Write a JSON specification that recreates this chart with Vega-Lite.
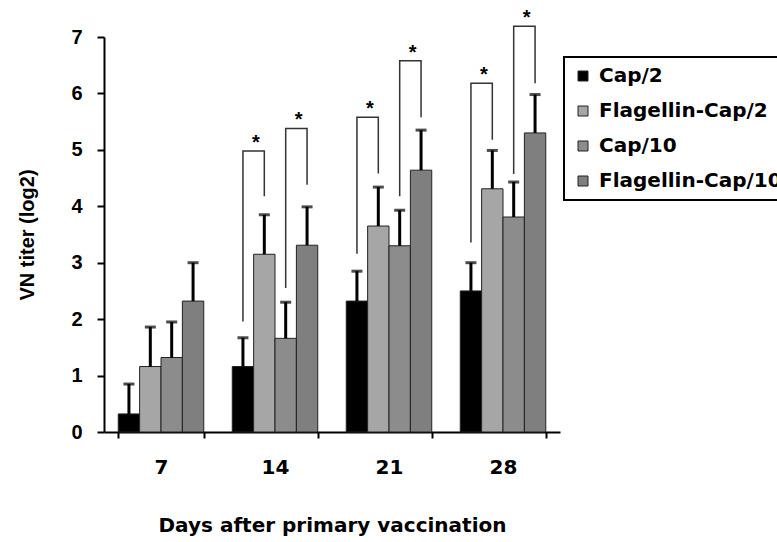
{
  "$schema": "https://vega.github.io/schema/vega-lite/v6.json",
  "autosize": "none",
  "padding": {"left": 104, "top": 37, "right": 217, "bottom": 110},
  "width": 456,
  "height": 395,
  "config": {
    "view": {"stroke": null},
    "font": "Liberation Sans"
  },
  "datasets": {
    "bars": [
      {"day": 7, "group": "Cap/2", "titer": 0.32, "upper": 0.85},
      {"day": 7, "group": "Flagellin-Cap/2", "titer": 1.16, "upper": 1.86},
      {"day": 7, "group": "Cap/10", "titer": 1.32, "upper": 1.95},
      {"day": 7, "group": "Flagellin-Cap/10", "titer": 2.32, "upper": 3.0},
      {"day": 14, "group": "Cap/2", "titer": 1.16, "upper": 1.67},
      {"day": 14, "group": "Flagellin-Cap/2", "titer": 3.15, "upper": 3.85},
      {"day": 14, "group": "Cap/10", "titer": 1.66, "upper": 2.3},
      {"day": 14, "group": "Flagellin-Cap/10", "titer": 3.31, "upper": 3.99},
      {"day": 21, "group": "Cap/2", "titer": 2.32, "upper": 2.85},
      {"day": 21, "group": "Flagellin-Cap/2", "titer": 3.65, "upper": 4.34},
      {"day": 21, "group": "Cap/10", "titer": 3.3, "upper": 3.93},
      {"day": 21, "group": "Flagellin-Cap/10", "titer": 4.64, "upper": 5.35},
      {"day": 28, "group": "Cap/2", "titer": 2.5, "upper": 3.0},
      {"day": 28, "group": "Flagellin-Cap/2", "titer": 4.31, "upper": 4.99},
      {"day": 28, "group": "Cap/10", "titer": 3.81, "upper": 4.43},
      {"day": 28, "group": "Flagellin-Cap/10", "titer": 5.3, "upper": 5.98}
    ],
    "brackets": [
      {"id": "14a", "day": 14, "group": "Cap/2", "seq": 1, "y": 1.96},
      {"id": "14a", "day": 14, "group": "Cap/2", "seq": 2, "y": 4.98},
      {"id": "14a", "day": 14, "group": "Flagellin-Cap/2", "seq": 3, "y": 4.98},
      {"id": "14a", "day": 14, "group": "Flagellin-Cap/2", "seq": 4, "y": 4.18},
      {"id": "14b", "day": 14, "group": "Cap/10", "seq": 1, "y": 2.55},
      {"id": "14b", "day": 14, "group": "Cap/10", "seq": 2, "y": 5.38},
      {"id": "14b", "day": 14, "group": "Flagellin-Cap/10", "seq": 3, "y": 5.38},
      {"id": "14b", "day": 14, "group": "Flagellin-Cap/10", "seq": 4, "y": 4.38},
      {"id": "21a", "day": 21, "group": "Cap/2", "seq": 1, "y": 3.16},
      {"id": "21a", "day": 21, "group": "Cap/2", "seq": 2, "y": 5.58},
      {"id": "21a", "day": 21, "group": "Flagellin-Cap/2", "seq": 3, "y": 5.58},
      {"id": "21a", "day": 21, "group": "Flagellin-Cap/2", "seq": 4, "y": 4.58},
      {"id": "21b", "day": 21, "group": "Cap/10", "seq": 1, "y": 4.18},
      {"id": "21b", "day": 21, "group": "Cap/10", "seq": 2, "y": 6.58},
      {"id": "21b", "day": 21, "group": "Flagellin-Cap/10", "seq": 3, "y": 6.58},
      {"id": "21b", "day": 21, "group": "Flagellin-Cap/10", "seq": 4, "y": 5.58},
      {"id": "28a", "day": 28, "group": "Cap/2", "seq": 1, "y": 3.36},
      {"id": "28a", "day": 28, "group": "Cap/2", "seq": 2, "y": 6.18},
      {"id": "28a", "day": 28, "group": "Flagellin-Cap/2", "seq": 3, "y": 6.18},
      {"id": "28a", "day": 28, "group": "Flagellin-Cap/2", "seq": 4, "y": 5.18},
      {"id": "28b", "day": 28, "group": "Cap/10", "seq": 1, "y": 4.57},
      {"id": "28b", "day": 28, "group": "Cap/10", "seq": 2, "y": 7.19},
      {"id": "28b", "day": 28, "group": "Flagellin-Cap/10", "seq": 3, "y": 7.19},
      {"id": "28b", "day": 28, "group": "Flagellin-Cap/10", "seq": 4, "y": 6.18}
    ],
    "stars": [
      {"day": 14, "group": "Cap/2", "y": 4.98, "label": "*"},
      {"day": 14, "group": "Cap/10", "y": 5.38, "label": "*"},
      {"day": 21, "group": "Cap/2", "y": 5.58, "label": "*"},
      {"day": 21, "group": "Cap/10", "y": 6.58, "label": "*"},
      {"day": 28, "group": "Cap/2", "y": 6.18, "label": "*"},
      {"day": 28, "group": "Cap/10", "y": 7.19, "label": "*"}
    ]
  },
  "encoding": {
    "x": {
      "field": "day",
      "type": "ordinal",
      "scale": {"paddingInner": 0.25, "paddingOuter": 0.125},
      "axis": {
        "title": "Days after primary vaccination",
        "labelAngle": 0,
        "labelFont": "DejaVu Sans",
        "labelFontSize": 20,
        "labelFontWeight": "bold",
        "labelColor": "#000",
        "labelPadding": 19,
        "tickBand": "extent",
        "tickSize": 6,
        "tickWidth": 2,
        "tickColor": "#000",
        "domainColor": "#000",
        "domainWidth": 2,
        "titleFont": "DejaVu Sans",
        "titleFontSize": 20,
        "titleFontWeight": "bold",
        "titleColor": "#000",
        "titlePadding": 38
      }
    },
    "xOffset": {
      "field": "group",
      "type": "nominal",
      "scale": {"domain": ["Cap/2", "Flagellin-Cap/2", "Cap/10", "Flagellin-Cap/10"], "paddingInner": 0, "paddingOuter": 0}
    }
  },
  "layer": [
    {
      "data": {"name": "bars"},
      "mark": {"type": "bar", "stroke": "#222", "strokeWidth": 1},
      "encoding": {
        "y": {
          "field": "titer",
          "type": "quantitative",
          "scale": {"domain": [0, 7], "nice": false},
          "axis": {
            "title": "VN titer (log2)",
            "values": [0, 1, 2, 3, 4, 5, 6, 7],
            "format": "d",
            "grid": false,
            "labelFontSize": 20,
            "labelFontWeight": "bold",
            "labelColor": "#000",
            "labelPadding": 15,
            "tickSize": 7,
            "tickWidth": 2,
            "tickColor": "#000",
            "domainColor": "#000",
            "domainWidth": 2,
            "titleFontSize": 20,
            "titleFontWeight": "bold",
            "titleColor": "#000",
            "titlePadding": 33
          }
        },
        "fill": {
          "field": "group",
          "type": "nominal",
          "scale": {
            "domain": ["Cap/2", "Flagellin-Cap/2", "Cap/10", "Flagellin-Cap/10"],
            "range": ["#000000", "#a6a6a6", "#8c8c8c", "#7f7f7f"]
          },
          "legend": {
            "title": null,
            "orient": "none",
            "legendX": 460,
            "legendY": 20,
            "strokeColor": "#000",
            "fillColor": "#fff",
            "padding": 9,
            "symbolType": "square",
            "symbolSize": 100,
            "symbolStrokeColor": "#222",
            "symbolStrokeWidth": 1,
            "labelFont": "DejaVu Sans",
            "labelFontSize": 20,
            "labelFontWeight": "bold",
            "labelColor": "#000",
            "labelOffset": 6,
            "labelLimit": 400,
            "rowPadding": 15,
            "encode": {"legend": {"update": {"strokeWidth": {"value": 2}}}}
          }
        }
      }
    },
    {
      "data": {"name": "bars"},
      "mark": {"type": "rule", "color": "#000", "strokeWidth": 3},
      "encoding": {
        "y": {"field": "titer", "type": "quantitative"},
        "y2": {"field": "upper"}
      }
    },
    {
      "data": {"name": "bars"},
      "mark": {"type": "tick", "color": "#000", "thickness": 3, "size": 11},
      "encoding": {
        "y": {"field": "upper", "type": "quantitative"}
      }
    },
    {
      "data": {"name": "brackets"},
      "mark": {"type": "line", "color": "#333", "strokeWidth": 1.5},
      "encoding": {
        "y": {"field": "y", "type": "quantitative"},
        "detail": {"field": "id", "type": "nominal"},
        "order": {"field": "seq", "type": "quantitative"}
      }
    },
    {
      "data": {"name": "stars"},
      "mark": {"type": "text", "fontSize": 20, "fontWeight": "bold", "color": "#000", "dx": 13, "dy": -2, "baseline": "alphabetic"},
      "encoding": {
        "y": {"field": "y", "type": "quantitative"},
        "text": {"field": "label"}
      }
    }
  ]
}
